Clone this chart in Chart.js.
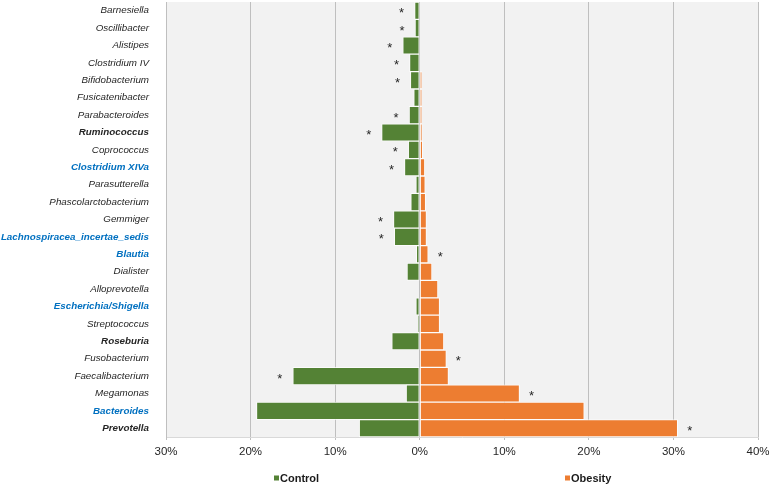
<!DOCTYPE html>
<html>
<head>
<meta charset="utf-8">
<script src="https://cdn.jsdelivr.net/npm/chart.js@4"></script>
<style>
  html, body { margin: 0; padding: 0; background: #fff; }
  #wrap { width: 777px; height: 487px; position: relative; }
</style>
</head>
<body>
<div id="wrap"><canvas id="chart"></canvas></div>
<script>
const genera = [
  'Barnesiella', 'Oscillibacter', 'Alistipes', 'Clostridium IV', 'Bifidobacterium',
  'Fusicatenibacter', 'Parabacteroides', 'Ruminococcus', 'Coprococcus', 'Clostridium XIVa',
  'Parasutterella', 'Phascolarctobacterium', 'Gemmiger', 'Lachnospiracea_incertae_sedis', 'Blautia',
  'Dialister', 'Alloprevotella', 'Escherichia/Shigella', 'Streptococcus', 'Roseburia',
  'Fusobacterium', 'Faecalibacterium', 'Megamonas', 'Bacteroides', 'Prevotella'
];

// relative abundance (%)
const control = [0.6, 0.55, 2.0, 1.2, 1.1, 0.7, 1.25, 4.5, 1.35, 1.8, 0.45, 1.05, 3.1, 3.0, 0.4, 1.5, 0, 0.45, 0.15, 3.3, 0, 15.0, 1.6, 19.3, 7.15];
const obesity = [0, 0, 0, 0, 0.25, 0.25, 0.25, 0.3, 0.35, 0.6, 0.65, 0.7, 0.8, 0.8, 1.0, 1.45, 2.15, 2.35, 2.35, 2.85, 3.15, 3.4, 11.8, 19.45, 30.5];

// significant differences
const controlStars = ['Barnesiella', 'Oscillibacter', 'Alistipes', 'Clostridium IV', 'Bifidobacterium',
  'Parabacteroides', 'Ruminococcus', 'Coprococcus', 'Clostridium XIVa', 'Gemmiger',
  'Lachnospiracea_incertae_sedis', 'Faecalibacterium'];
const obesityStars = ['Blautia', 'Fusobacterium', 'Megamonas', 'Prevotella'];

// highlighted labels
const boldTaxa = ['Ruminococcus', 'Roseburia', 'Prevotella'];
const blueTaxa = ['Clostridium XIVa', 'Lachnospiracea_incertae_sedis', 'Blautia', 'Escherichia/Shigella', 'Bacteroides'];

const xTicks = [-30, -20, -10, 0, 10, 20, 30, 40];

const GREEN = '#548235';
const ORANGE = '#ED7D31';
const FONT = '"Liberation Sans", Arial, sans-serif';

const plotBg = {
  id: 'plotBg',
  beforeDraw(chart) {
    const { ctx, chartArea: a } = chart;
    ctx.save();
    ctx.fillStyle = '#F2F2F2';
    ctx.fillRect(a.left, a.top, a.right - a.left, a.bottom - a.top);
    ctx.restore();
  }
};

const stars = {
  id: 'stars',
  afterDatasetsDraw(chart) {
    const { ctx, scales: { x, y } } = chart;
    ctx.save();
    ctx.font = '13px ' + FONT;
    ctx.fillStyle = '#262626';
    ctx.textAlign = 'center';
    ctx.textBaseline = 'alphabetic';
    genera.forEach((g, i) => {
      const yc = y.getPixelForValue(i);
      if (controlStars.includes(g)) {
        ctx.fillText('*', x.getPixelForValue(-control[i]) - 13, yc + 6.5);
      }
      if (obesityStars.includes(g)) {
        ctx.fillText('*', x.getPixelForValue(obesity[i]) + 12, yc + 6.5);
      }
    });
    ctx.restore();
  }
};

const spreadLegend = {
  id: 'spreadLegend',
  afterDraw(chart) {
    const { ctx } = chart;
    const yc = 478;
    const items = [[274, chart.data.datasets[0]], [565, chart.data.datasets[1]]];
    ctx.save();
    ctx.font = 'bold 11px ' + FONT;
    ctx.textBaseline = 'middle';
    ctx.textAlign = 'left';
    items.forEach(([xp, ds]) => {
      ctx.fillStyle = ds.backgroundColor;
      ctx.fillRect(xp, yc - 2.5, 5, 5);
      ctx.fillStyle = '#1a1a1a';
      ctx.fillText(ds.label, xp + 6, yc + 0.5);
    });
    ctx.restore();
  }
};

new Chart(document.getElementById('chart'), {
  type: 'bar',
  data: {
    labels: genera,
    datasets: [
      {
        label: 'Control',
        data: control.map(v => -v),
        backgroundColor: GREEN,
        borderColor: 'rgba(255,255,255,0.75)',
        borderWidth: 1,
        borderSkipped: false,
        barPercentage: 1,
        categoryPercentage: 1
      },
      {
        label: 'Obesity',
        data: obesity,
        backgroundColor: ORANGE,
        borderColor: 'rgba(255,255,255,0.75)',
        borderWidth: 1,
        borderSkipped: false,
        barPercentage: 1,
        categoryPercentage: 1
      }
    ]
  },
  options: {
    indexAxis: 'y',
    responsive: true,
    maintainAspectRatio: false,
    animation: false,
    layout: { padding: { left: 0, right: 19, top: 2, bottom: 25 } },
    scales: {
      x: {
        stacked: true,
        min: -30,
        max: 40,
        afterBuildTicks: (s) => { s.ticks = xTicks.map(v => ({ value: v })); },
        afterFit: (s) => { s.height = 25; },
        grid: { color: '#BFBFBF', tickLength: 3, tickColor: '#BFBFBF' },
        border: { color: '#D9D9D9' },
        ticks: {
          padding: 5,
          color: '#262626',
          font: { family: FONT, size: 11.5 },
          callback: (v) => Math.abs(v) + '%'
        }
      },
      y: {
        stacked: true,
        afterFit: (s) => { s.width = 166; s.paddingTop = 0; s.paddingBottom = 0; },
        grid: { display: false, drawTicks: false },
        border: { color: '#BFBFBF' },
        ticks: {
          padding: 17,
          autoSkip: false,
          color: (c) => blueTaxa.includes(genera[c.index]) ? '#0070C0' : '#262626',
          font: (c) => {
            const g = genera[c.index];
            const bold = boldTaxa.includes(g) || blueTaxa.includes(g);
            return { family: FONT, size: 9.8, style: 'italic', weight: bold ? 'bold' : 'normal' };
          }
        }
      }
    },
    plugins: {
      legend: { display: false },
      tooltip: { enabled: false }
    }
  },
  plugins: [plotBg, stars, spreadLegend]
});
</script>
</body>
</html>
